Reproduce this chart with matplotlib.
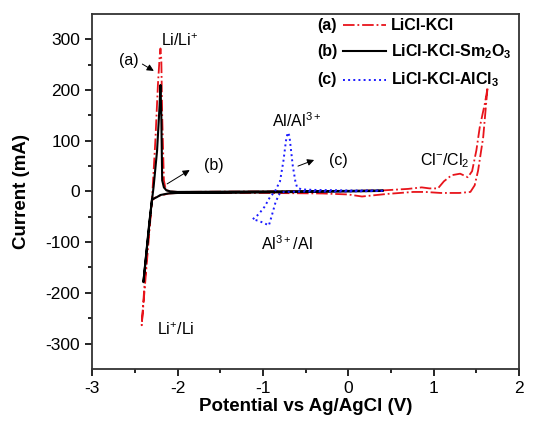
import matplotlib
matplotlib.use("Agg")
import matplotlib.pyplot as plt

plt.rcParams['font.family'] = ['Liberation Sans', 'DejaVu Sans']
plt.rcParams['mathtext.fontset'] = 'custom'
plt.rcParams['mathtext.rm'] = 'Liberation Sans'
plt.rcParams['mathtext.bf'] = 'Liberation Sans:bold'
plt.rcParams['axes.unicode_minus'] = False

# (a) LiCl-KCl : cathodic sweep then anodic sweep
a_x = [1.63, 1.58, 1.52, 1.48, 1.43, 1.30, 1.08, 0.90, 0.76, 0.45, 0.16, 0.0, -0.3, -1.0, -2.0,
       -2.10, -2.20, -2.26, -2.30, -2.36, -2.42,
       -2.30, -2.26, -2.23, -2.21, -2.20, -2.19, -2.18, -2.16, -2.14, -2.10, -2.0, -1.0, 0.0,
       0.4, 0.7, 0.86, 0.95, 1.05, 1.12, 1.21, 1.31, 1.40, 1.45, 1.50, 1.54, 1.60, 1.63]
a_y = [203, 107, 41, 12, -1, -3, -3, -1, -1, -5, -10, -6, -4, -3, -3,
       -4, -8, -12, -18, -120, -264,
       -18, 100, 210, 265, 282, 260, 150, 22, 5, 0, -1, 0, 1,
       2, 5, 8, 6, 6, 20, 32, 35, 28, 40, 81, 127, 174, 203]

# (b) LiCl-KCl-Sm2O3
b_x = [0.40, 0.0, -0.5, -1.0, -1.5, -2.0, -2.11, -2.20, -2.24, -2.30, -2.40,
       -2.33, -2.28, -2.24, -2.21, -2.20, -2.19, -2.18, -2.16, -2.13, -2.08, -2.0,
       -1.0, 0.0, 0.40]
b_y = [1, 0, -1, -2, -3, -3, -4, -7, -11, -16, -179,
       -60, 10, 80, 170, 210, 150, 22, 8, 2, 0, -1,
       0, 1, 2]

# (c) LiCl-KCl-AlCl3
c_x = [0.40, 0.0, -0.5, -0.75, -0.80, -0.85, -0.90, -0.93, -0.98, -1.05, -1.12,
       -1.05, -0.98, -0.92, -0.86, -0.80, -0.76, -0.73, -0.71, -0.69, -0.67, -0.65,
       -0.62, -0.60, -0.55, -0.4, 0.0, 0.40]
c_y = [1, 0, 0, -1, -3, -20, -50, -67, -63, -58, -55,
       -45, -30, -12, 0, 20, 60, 100, 116, 110, 80, 50,
       20, 8, 4, 3, 2, 2]

fig = plt.figure(figsize=(5.39, 4.24), dpi=100)
ax = fig.add_axes([0.171, 0.130, 0.792, 0.837])

ax.plot(a_x, a_y, color='#e8141b', ls='-.', lw=1.3)
ax.plot(b_x, b_y, color='black', ls='-', lw=1.5)
ax.plot(c_x, c_y, color='#1a1aff', ls=':', lw=1.4)

ax.set_xlim(-3, 2)
ax.set_ylim(-350, 350)
ax.set_xticks([-3, -2, -1, 0, 1, 2])
ax.set_xticks([-2.5, -1.5, -0.5, 0.5, 1.5], minor=True)
ax.set_yticks([-300, -200, -100, 0, 100, 200, 300])
ax.set_yticks([-250, -150, -50, 50, 150, 250], minor=True)
ax.tick_params(which='major', direction='out', length=5, width=1.2, labelsize=12.5)
ax.tick_params(which='minor', direction='out', length=3, width=1.2)
for s in ax.spines.values():
    s.set_linewidth(1.3)
    s.set_color('#333333')

ax.set_xlabel('Potential vs Ag/AgCl (V)', fontsize=13.5, fontweight='bold', labelpad=2)
ax.set_ylabel('Current (mA)', fontsize=13.5, fontweight='bold', labelpad=11)

# peak labels
fs = 11.5
ax.text(-1.98, 298, 'Li/Li$^{+}$', fontsize=fs, ha='center', va='center')
ax.text(-2.02, -272, 'Li$^{+}$/Li', fontsize=fs, ha='center', va='center')
ax.text(-0.61, 140, 'Al/Al$^{3+}$', fontsize=fs, ha='center', va='center')
ax.text(-0.72, -103, 'Al$^{3+}$/Al', fontsize=fs, ha='center', va='center')
ax.text(1.13, 61, 'Cl$^{-}$/Cl$_{2}$', fontsize=fs, ha='center', va='center')

# curve tags with arrows
arrow = dict(arrowstyle='-|>', color='black', lw=0.7, mutation_scale=10)
ax.text(-2.57, 258, '(a)', fontsize=fs, ha='center', va='center')
ax.annotate('', xy=(-2.25, 235), xytext=(-2.44, 254), arrowprops=arrow)
ax.text(-1.58, 51, '(b)', fontsize=fs, ha='center', va='center')
ax.annotate('', xy=(-1.83, 45), xytext=(-2.15, 12), arrowprops=arrow)
ax.text(-0.12, 61, '(c)', fontsize=fs, ha='center', va='center')
ax.annotate('', xy=(-0.37, 64), xytext=(-0.62, 48), arrowprops=arrow)

# legend block
tags = ['(a)', '(b)', '(c)']
names = ['LiCl-KCl', r'LiCl-KCl-Sm$_\mathbf{2}$O$_\mathbf{3}$', r'LiCl-KCl-AlCl$_\mathbf{3}$']
styles = [('#e8141b', '-.', 1.3), ('black', '-', 1.5), ('#1a1aff', ':', 1.4)]
rows = [0.968, 0.895, 0.815]
for tag, name, (c, ls, lw), yr in zip(tags, names, styles, rows):
    ax.text(0.528, yr, tag, transform=ax.transAxes, fontsize=11.5, fontweight='bold',
            va='center', ha='left')
    ax.plot([0.588, 0.688], [yr, yr], transform=ax.transAxes, color=c, ls=ls, lw=lw)
    ax.text(0.700, yr, name, transform=ax.transAxes, fontsize=11.5, fontweight='bold',
            va='center', ha='left')

fig.savefig('out.png', dpi=100)
